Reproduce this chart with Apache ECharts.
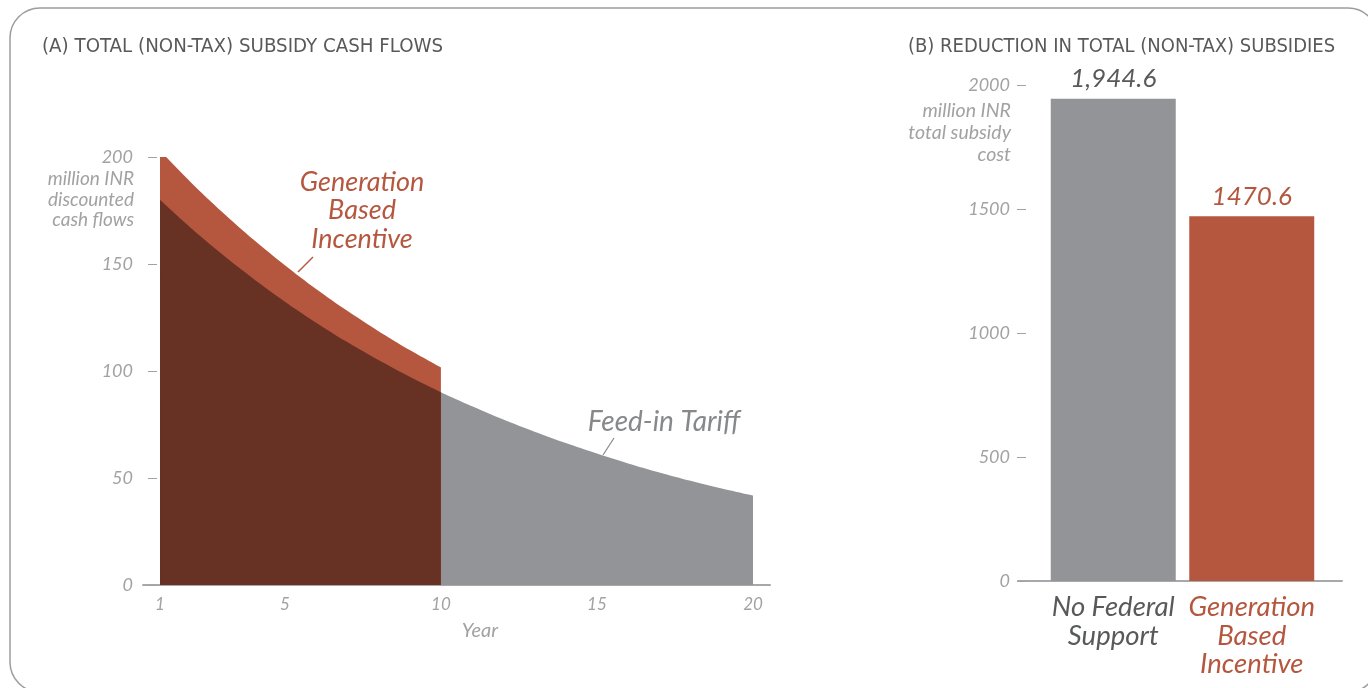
<!DOCTYPE html>
<html>
<head>
<meta charset="utf-8">
<script src="https://cdn.jsdelivr.net/npm/echarts@6/dist/echarts.min.js"></script>
<style>
  html, body { margin: 0; padding: 0; background: #fff; }
  #chart { width: 1368px; height: 688px; }
</style>
</head>
<body>
<div id="chart"></div>
<script>
// ---------- Data ----------
const years = [1,2,3,4,5,6,7,8,9,10,11,12,13,14,15,16,17,18,19,20];
// Feed-in tariff discounted cash flows (million INR)
const fitValues = [180.0,166.7,154.4,143.0,132.4,122.6,113.5,105.1,97.3,90.1,83.5,77.3,71.6,66.3,61.4,56.8,52.6,48.7,45.1,41.8];
// Generation based incentive (years 1-10)
const gbiYears = [1,2,3,4,5,6,7,8,9,10];
const gbiValues = [203.0,188.0,174.2,161.3,149.4,138.3,128.1,118.6,109.8,101.7];
const xTickLabels = [1,5,10,15,20];

const barCategories = ['No Federal\nSupport', 'Generation\nBased\nIncentive'];
const barValues = [1944.6, 1470.6];
const barLabels = ['1,944.6', '1470.6'];

const titleA = '(A) TOTAL (NON-TAX) SUBSIDY CASH FLOWS';
const titleB = '(B) REDUCTION IN TOTAL (NON-TAX) SUBSIDIES';

// ---------- Styling ----------
const ORANGE = '#b5573e';
const BROWN = '#673123';
const GRAY = '#939497';
const DARKTXT = '#58595b';
const TICKTXT = '#a2a2a2';
const AXIS = '#a7a8aa';
const FONT = 'Lato, "Open Sans", sans-serif';
const TFONT = '"Liberation Sans Narrow", "DejaVu Sans Condensed", "Open Sans", sans-serif';

const pairs = (xs, ys) => xs.map((x, i) => [x, ys[i]]);
const fitEarly = years.filter(y => y <= 10);
const fitLate = years.filter(y => y >= 10);

const chart = echarts.init(document.getElementById('chart'), null, { renderer: 'canvas' });

const tickLabelStyle = { fontFamily: FONT, fontStyle: 'italic', fontWeight: 'normal', fontSize: 18, color: TICKTXT };

const option = {
  animation: false,
  backgroundColor: '#fff',
  title: [
    { text: titleA, left: 42, top: 37, padding: 0, textStyle: { fontFamily: TFONT, fontSize: 20.3, fontWeight: 'normal', color: DARKTXT } },
    { text: titleB, left: 908, top: 37, padding: 0, textStyle: { fontFamily: TFONT, fontSize: 20, fontWeight: 'normal', color: DARKTXT } },
    { text: 'million INR\ndiscounted\ncash flows', left: 129, top: 164, textAlign: 'right',
      textStyle: { fontFamily: FONT, fontStyle: 'italic', fontWeight: 'normal', fontSize: 19, color: TICKTXT, lineHeight: 20.5 } },
    { text: 'million INR\ntotal subsidy\ncost', left: 1006, top: 95, textAlign: 'right',
      textStyle: { fontFamily: FONT, fontStyle: 'italic', fontWeight: 'normal', fontSize: 19.5, color: TICKTXT, lineHeight: 22 } },
    { text: 'Year', left: 475, top: 616, textAlign: 'center',
      textStyle: { fontFamily: FONT, fontStyle: 'italic', fontWeight: 'normal', fontSize: 20, color: TICKTXT } }
  ],
  grid: [
    { left: 143, width: 627, top: 157, bottom: 103 },
    { left: 1044, width: 277, top: 85, bottom: 107 },
    { left: 1018, width: 324, top: 85, bottom: 107 }
  ],
  xAxis: [
    { gridIndex: 0, type: 'value', min: 0.455, max: 20.545,
      axisLine: { show: true, lineStyle: { color: AXIS, width: 2 } },
      axisTick: { show: false }, splitLine: { show: false },
      axisLabel: Object.assign({ customValues: xTickLabels, showMinLabel: true, showMaxLabel: true, margin: 11 }, tickLabelStyle, { fontSize: 17 }) },
    { gridIndex: 1, type: 'category', data: barCategories, boundaryGap: true,
      axisLine: { show: false }, axisTick: { show: false },
      axisLabel: { interval: 0, margin: 12, lineHeight: 28.5,
        formatter: (v, i) => v.split('\n').map(s => '{c' + i + '|' + s + '}').join('\n'),
        rich: {
          c0: { fontFamily: FONT, fontStyle: 'italic', fontSize: 27.5, color: DARKTXT, lineHeight: 28.5 },
          c1: { fontFamily: FONT, fontStyle: 'italic', fontSize: 27.5, color: ORANGE, lineHeight: 28.5 }
        } } },
    { gridIndex: 2, type: 'value', min: 0, max: 1,
      axisLine: { show: true, lineStyle: { color: AXIS, width: 2 } },
      axisTick: { show: false }, splitLine: { show: false }, axisLabel: { show: false } }
  ],
  yAxis: [
    { gridIndex: 0, type: 'value', min: 0, max: 200, interval: 50, offset: -14,
      axisLine: { show: false }, splitLine: { show: false },
      axisTick: { show: true, length: 9, lineStyle: { color: TICKTXT, width: 1 } },
      axisLabel: Object.assign({ margin: 24, formatter: v => String(v) }, tickLabelStyle) },
    { gridIndex: 1, type: 'value', min: 0, max: 2000, show: false },
    { gridIndex: 2, type: 'value', min: 0, max: 2000, interval: 500, offset: -8,
      axisLine: { show: false }, splitLine: { show: false },
      axisTick: { show: true, length: 9, lineStyle: { color: TICKTXT, width: 1 } },
      axisLabel: Object.assign({ margin: 16, formatter: v => String(v) }, tickLabelStyle) }
  ],
  series: [
    { name: 'Generation Based Incentive', type: 'line', xAxisIndex: 0, yAxisIndex: 0,
      data: pairs(gbiYears, gbiValues), smooth: 0.3, showSymbol: false, z: 2,
      lineStyle: { width: 0 }, areaStyle: { color: ORANGE, opacity: 1 } },
    { name: 'FIT (years 1-10)', type: 'line', xAxisIndex: 0, yAxisIndex: 0,
      data: pairs(fitEarly, fitValues.slice(0, fitEarly.length)), smooth: 0.3, showSymbol: false, z: 3,
      lineStyle: { width: 0 }, areaStyle: { color: BROWN, opacity: 1 } },
    { name: 'Feed-in Tariff', type: 'line', xAxisIndex: 0, yAxisIndex: 0,
      data: pairs(fitLate, fitValues.slice(years.indexOf(10))), smooth: 0.3, showSymbol: false, z: 2,
      lineStyle: { width: 0 }, areaStyle: { color: GRAY, opacity: 1 } },
    { name: 'Total subsidy', type: 'bar', xAxisIndex: 1, yAxisIndex: 1, barWidth: 125, z: 1,
      data: barValues.map((v, i) => ({ value: v, itemStyle: { color: i === 0 ? GRAY : ORANGE },
        label: { color: i === 0 ? DARKTXT : ORANGE } })),
      label: { show: true, position: 'top', distance: 7, formatter: p => barLabels[p.dataIndex],
        fontFamily: FONT, fontStyle: 'italic', fontSize: 26 } }
  ],
  graphic: [
    { type: 'rect', z: -10, silent: true,
      shape: { x: 10, y: 8, width: 1368, height: 684, r: 30 },
      style: { fill: 'none', stroke: '#9d9d9d', lineWidth: 1.5 } },
    { type: 'text', x: 362, y: 168, style: { text: 'Generation\nBased\nIncentive', align: 'center', verticalAlign: 'top',
      font: 'italic 27px ' + FONT, fill: ORANGE, lineHeight: 28.5 } },
    { type: 'line', shape: { x1: 313, y1: 257, x2: 298, y2: 272 }, style: { stroke: ORANGE, lineWidth: 1.5 } },
    { type: 'text', x: 664, y: 422, style: { text: 'Feed-in Tariff', align: 'center', verticalAlign: 'middle',
      font: 'italic 28px ' + FONT, fill: '#87888a' } },
    { type: 'line', shape: { x1: 614, y1: 438, x2: 603, y2: 455 }, style: { stroke: '#87888a', lineWidth: 1.2 } }
  ]
};
chart.setOption(option);
</script>
</body>
</html>
